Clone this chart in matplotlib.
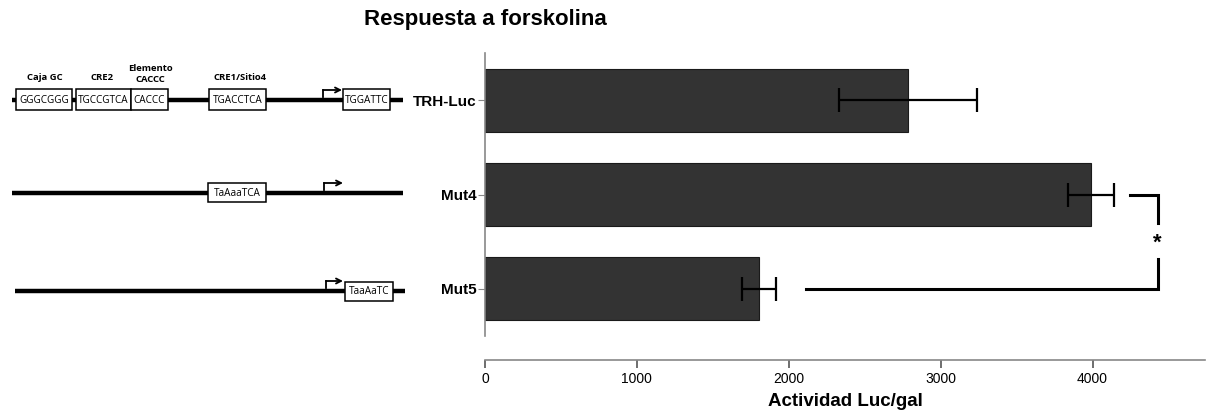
import matplotlib
matplotlib.use("Agg")
import matplotlib.pyplot as plt
from matplotlib.patches import Rectangle, FancyArrowPatch
from matplotlib import font_manager

# Actividad luciferasa normalizada por beta-gal (media y error)
constructs = ["TRH-Luc", "Mut4", "Mut5"]
activity = [2785, 3987, 1803]
error = [457, 151, 112]
x_ticks = [0, 1000, 2000, 3000, 4000]

# Esquema de los promotores: (x0, x1, y) de la linea de cada construccion
promoter_lines = [(12, 403, 100), (12, 403, 193), (15, 405, 291)]
# cajas: (x0, x1, y_centro, texto)
boxes = [
    (16, 72, 100, "GGGCGGG"),
    (76, 131, 100, "TGCCGTCA"),
    (131, 168, 100, "CACCC"),
    (209, 266, 100, "TGACCTCA"),
    (343, 390, 100, "TGGATTC"),
    (208, 266, 193, "TaAaaTCA"),
    (345, 393, 291, "TaaAaTC"),
]
box_labels = [(45, 77, "Caja GC"), (102, 77, "CRE2"), (150, 74, "Elemento\nCACCC"),
              (240, 77, "CRE1/Sitio4")]
# flechas de inicio de transcripcion: (x0, x1, y_linea)
tss = [(323, 342, 100), (324, 343, 193), (326, 343, 291)]

names = {f.name for f in font_manager.fontManager.ttflist}
narrow = "Liberation Sans Narrow" if "Liberation Sans Narrow" in names else "Liberation Sans"
plt.rcParams["font.family"] = [narrow, "DejaVu Sans"]

W, H = 1208, 415
fig = plt.figure(figsize=(W / 100, H / 100), dpi=100)

# ---- grafico de barras ----
ax = fig.add_axes([485 / W, 1 - 336 / H, (1205 - 485) / W, (336 - 53) / H])
ypos = range(len(constructs))
ax.barh(ypos, activity, height=0.67, color="#333333", edgecolor="#1a1a1a", linewidth=0.8, zorder=2)
ax.errorbar(activity, ypos, xerr=error, fmt="none", ecolor="black", elinewidth=1.6,
            capsize=8.5, capthick=1.6, zorder=3)
ax.set_ylim(2.5, -0.5)
ax.set_xlim(0, 4740)
ax.set_yticks(list(ypos))
ax.set_yticklabels(constructs, fontweight="bold", fontsize=11)
ax.set_xticks(x_ticks)
ax.set_xticklabels([str(v) for v in x_ticks], fontsize=10, color="#222222")
ax.set_xlabel("Actividad Luc/gal", fontweight="bold", fontsize=13.5, labelpad=5)
for s in ["top", "right"]:
    ax.spines[s].set_visible(False)
for s in ["left", "bottom"]:
    ax.spines[s].set_color("#888888")
    ax.spines[s].set_linewidth(1.2)
ax.spines["bottom"].set_position(("outward", 17))
ax.tick_params(axis="y", length=5, color="#888888", pad=1)
ax.tick_params(axis="x", length=6, width=1.2, color="#555555", pad=3)

# corchete de significancia Mut4 vs Mut5
ax.plot([2112, 4428, 4428], [2.0, 2.0, 1.68], color="black", lw=2.2, solid_joinstyle="miter")
ax.plot([4243, 4428, 4428], [1.0, 1.0, 1.30], color="black", lw=2.2, solid_joinstyle="miter")
ax.text(4428, 1.52, "*", ha="center", va="center", fontsize=16, fontweight="bold",
        fontfamily="Liberation Sans")

fig.text(485 / W, 1 - 20 / H, "Respuesta a forskolina", ha="center", va="center",
         fontsize=16, fontweight="bold", fontfamily="Liberation Sans")

# ---- esquema de promotores ----
dg = fig.add_axes([0, 0, 1, 1], zorder=-1)
dg.set_xlim(0, W)
dg.set_ylim(H, 0)
dg.axis("off")
for x0, x1, y in promoter_lines:
    dg.plot([x0, x1], [y, y], color="black", lw=3.2, solid_capstyle="butt")
for x0, x1, yc, txt in boxes:
    h = 21 if yc == 100 else 19
    dg.add_patch(Rectangle((x0, yc - h / 2), x1 - x0, h, facecolor="white",
                           edgecolor="black", lw=1.1, zorder=3))
    dg.text((x0 + x1) / 2, yc + 0.5, txt, ha="center", va="center", fontsize=7.2,
            fontfamily="Open Sans", zorder=4)
for x, y, txt in box_labels:
    dg.text(x, y, txt, ha="center", va="center", fontsize=6.8, fontweight="bold",
            fontfamily="Open Sans", linespacing=1.25)
for x0, x1, y in tss:
    dg.plot([x0, x0], [y - 3, y - 10], color="black", lw=1.3)
    dg.add_patch(FancyArrowPatch((x0, y - 10), (x1, y - 10), arrowstyle="->",
                                 mutation_scale=9, lw=1.3, color="black",
                                 shrinkA=0, shrinkB=0))

fig.savefig("out.png", dpi=100)
